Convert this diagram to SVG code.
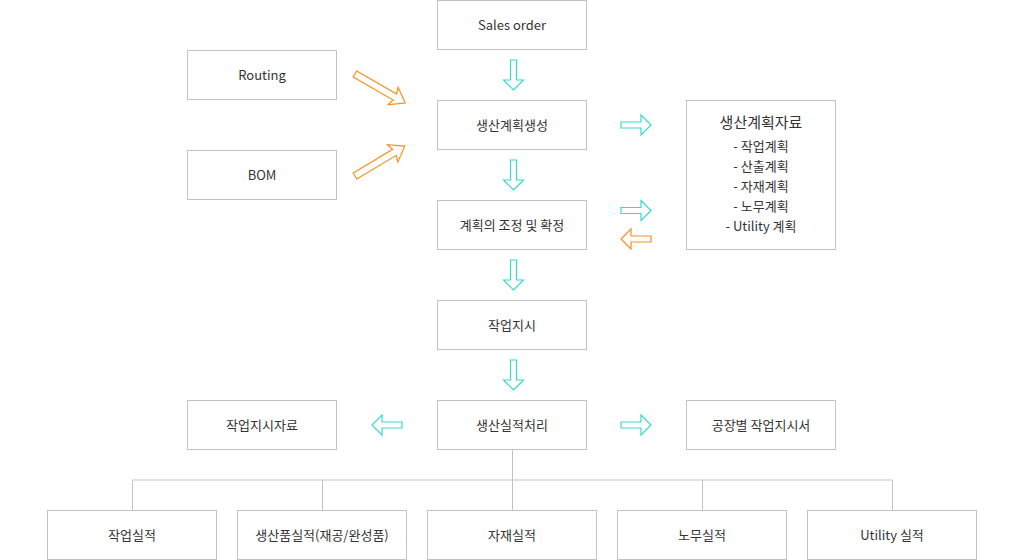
<svg xmlns="http://www.w3.org/2000/svg" width="1024" height="560" viewBox="0 0 1024 560">
<style>
.box{fill:#fff;stroke:#c3c3c3;stroke-width:1}
.t{font-family:"Noto Sans CJK KR","Noto Sans",sans-serif;font-size:13px;fill:#333;text-anchor:middle}
.tt{font-size:15px}
.cy{fill:#fff;stroke:#3ad8d0;stroke-width:1.2}
.or{fill:#fff;stroke:#f7901e;stroke-width:1.2}
.ln{fill:none;stroke:#c3c3c3;stroke-width:1}
</style>
<defs>
<path id="a" d="M0,-3 L20,-3 L20,-10 L30,0 L20,10 L20,3 L0,3 Z"/>
<path id="d" d="M0,-3.5 L46,-3.5 L44,-10 L58,0 L44,10 L46,3.5 L0,3.5 Z"/>
</defs>
<rect width="1024" height="560" fill="#fff"/>
<g id="connectors">
<path class="ln" d="M512.5,450 V480 M132.5,480 H892.5 M132.5,480 V510 M322.5,480 V510 M512.5,480 V510 M702.5,480 V510 M892.5,480 V510"/>
<use href="#a" class="cy" transform="translate(513.5,60) rotate(90)"/>
<use href="#a" class="cy" transform="translate(513.5,160) rotate(90)"/>
<use href="#a" class="cy" transform="translate(513.5,260) rotate(90)"/>
<use href="#a" class="cy" transform="translate(513.5,360) rotate(90)"/>
<use href="#a" class="cy" transform="translate(621,125)"/>
<use href="#a" class="cy" transform="translate(621,210.5)"/>
<use href="#a" class="or" transform="translate(651,239) rotate(180)"/>
<use href="#a" class="cy" transform="translate(402,425) rotate(180)"/>
<use href="#a" class="cy" transform="translate(621,425)"/>
<use href="#d" class="or" transform="translate(355,74) rotate(30)"/>
<use href="#d" class="or" transform="translate(355,176) rotate(-31)"/>
</g>
<g id="sales"><rect class="box" x="437.5" y="0.5" width="149" height="49"/><text class="t" x="512" y="30">Sales order</text></g>
<g id="routing"><rect class="box" x="187.5" y="50.5" width="149" height="49"/><text class="t" x="262" y="80">Routing</text></g>
<g id="bom"><rect class="box" x="187.5" y="150.5" width="149" height="49"/><text class="t" x="262" y="180">BOM</text></g>
<g id="plan"><rect class="box" x="437.5" y="100.5" width="149" height="49"/><text class="t" x="512" y="130">생산계획생성</text></g>
<g id="adjust"><rect class="box" x="437.5" y="200.5" width="149" height="49"/><text class="t" x="512" y="230">계획의 조정 및 확정</text></g>
<g id="order"><rect class="box" x="437.5" y="300.5" width="149" height="49"/><text class="t" x="512" y="330">작업지시</text></g>
<g id="result"><rect class="box" x="437.5" y="400.5" width="149" height="49"/><text class="t" x="512" y="430">생산실적처리</text></g>
<g id="plandata"><rect class="box" x="686.5" y="100.5" width="149" height="149"/>
<text class="t tt" x="761" y="128">생산계획자료</text>
<text class="t" x="761" y="151">- 작업계획</text>
<text class="t" x="761" y="171">- 산출계획</text>
<text class="t" x="761" y="191">- 자재계획</text>
<text class="t" x="761" y="211">- 노무계획</text>
<text class="t" x="761" y="231">- Utility 계획</text></g>
<g id="orderdata"><rect class="box" x="187.5" y="400.5" width="149" height="49"/><text class="t" x="262" y="430">작업지시자료</text></g>
<g id="factory"><rect class="box" x="686.5" y="400.5" width="149" height="49"/><text class="t" x="761" y="430">공장별 작업지시서</text></g>
<g id="r1"><rect class="box" x="47.5" y="510.5" width="169" height="49"/><text class="t" x="132" y="540">작업실적</text></g>
<g id="r2"><rect class="box" x="237.5" y="510.5" width="169" height="49"/><text class="t" x="322" y="540">생산품실적(재공/완성품)</text></g>
<g id="r3"><rect class="box" x="427.5" y="510.5" width="169" height="49"/><text class="t" x="512" y="540">자재실적</text></g>
<g id="r4"><rect class="box" x="617.5" y="510.5" width="169" height="49"/><text class="t" x="702" y="540">노무실적</text></g>
<g id="r5"><rect class="box" x="807.5" y="510.5" width="169" height="49"/><text class="t" x="892" y="540">Utility 실적</text></g>
</svg>
